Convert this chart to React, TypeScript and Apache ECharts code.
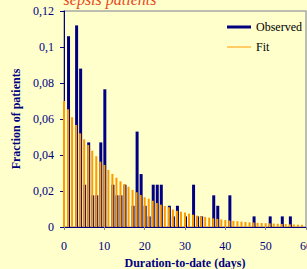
import React, { useEffect, useRef } from 'react';
import * as echarts from 'echarts';

// Day index 0..59
const days: number[] = Array.from({ length: 60 }, (_, i) => i);

const observed: number[] = [
  0, 0.106, 0, 0.112, 0.088, 0.0235, 0.047, 0.0176, 0.0176, 0.047,
  0.0765, 0, 0.0235, 0.0176, 0.0176, 0.0235, 0, 0.0118, 0.053, 0.0294,
  0.0118, 0.0059, 0.0235, 0.0235, 0.0235, 0, 0.0118, 0.0059, 0.0118, 0,
  0.0059, 0, 0.0235, 0.0059, 0.0059, 0, 0, 0.0176, 0.0118, 0,
  0, 0.0176, 0, 0, 0, 0, 0, 0.0059, 0, 0,
  0, 0.0059, 0, 0, 0.0059, 0, 0.0059, 0, 0, 0,
];

const fit: number[] = [
  0.070, 0.0654, 0.061, 0.0567, 0.052, 0.0487, 0.0456, 0.0424, 0.0393, 0.0363,
  0.0345, 0.0317, 0.0295, 0.0274, 0.0254, 0.0239, 0.0224, 0.0206, 0.0193, 0.0178,
  0.0165, 0.0157, 0.0146, 0.0133, 0.0124, 0.0117, 0.011, 0.0097, 0.009, 0.0085,
  0.008, 0.0074, 0.0068, 0.0063, 0.0059, 0.0056, 0.0052, 0.0048, 0.0045, 0.0042,
  0.0039, 0.0036, 0.0034, 0.0032, 0.003, 0.0028, 0.0026, 0.0025, 0.0023, 0.0022,
  0.0021, 0.002, 0.0019, 0.0018, 0.0017, 0.0016, 0.0015, 0.0014, 0.0013, 0.0012,
];

const seriesNames = ['Observed', 'Fit'];
const titleText = 'sepsis patients';
const xTitle = 'Duration-to-date (days)';
const yTitle = 'Fraction of patients';

const NAVY = '#000080';
const ORANGE = '#FF9900';
const SERIF = '"Liberation Serif", "Times New Roman", serif';

export default function App() {
  const ref = useRef<HTMLDivElement>(null);

  useEffect(() => {
    if (!ref.current) return;
    const chart = echarts.init(ref.current, undefined, { renderer: 'svg' });
    chart.setOption({
      animation: false,
      backgroundColor: '#FFFFCC',
      grid: {
        left: 64,
        right: 1,
        top: 11,
        bottom: 42,
        outerBoundsMode: 'none',
        containLabel: false,
        show: true,
        borderColor: '#A8A8A8',
        borderWidth: 1.5,
        backgroundColor: 'transparent',
      },
      graphic: [
        {
          type: 'text',
          x: 110,
          y: 7,
          style: {
            text: titleText,
            align: 'center',
            verticalAlign: 'bottom',
            fontFamily: SERIF,
            fontStyle: 'italic',
            fontSize: 16,
            fill: '#E8481C',
          },
        },
      ],
      legend: [
        {
          data: [{ name: seriesNames[0], icon: 'rect' }],
          left: 222,
          top: 16,
          itemWidth: 24,
          itemHeight: 3,
          textStyle: { fontFamily: SERIF, fontSize: 12, color: '#000' },
        },
        {
          data: [{ name: seriesNames[1], icon: 'rect' }],
          left: 222,
          top: 36,
          itemWidth: 24,
          itemHeight: 1,
          textStyle: { fontFamily: SERIF, fontSize: 12, color: '#000' },
        },
      ],
      xAxis: {
        type: 'value',
        min: 0,
        max: 60,
        interval: 10,
        name: xTitle,
        nameLocation: 'middle',
        nameGap: 28,
        nameTextStyle: { fontFamily: SERIF, fontSize: 12, fontWeight: 'bold', color: NAVY },
        axisLine: { lineStyle: { color: NAVY, width: 1 } },
        axisTick: { show: true, length: 3, lineStyle: { color: '#888' } },
        axisLabel: { fontFamily: SERIF, fontSize: 12, color: NAVY, margin: 13 },
        splitLine: { show: false },
      },
      yAxis: {
        type: 'value',
        min: 0,
        max: 0.12,
        interval: 0.02,
        name: yTitle,
        nameLocation: 'middle',
        nameGap: 40,
        nameTextStyle: { fontFamily: SERIF, fontSize: 12, fontWeight: 'bold', color: NAVY },
        axisLine: { show: true, lineStyle: { color: NAVY, width: 1 } },
        axisTick: { show: true, length: 4, lineStyle: { color: NAVY } },
        axisLabel: {
          fontFamily: SERIF,
          fontSize: 12,
          color: NAVY,
          margin: 10,
          formatter: (v: number) => (v === 0 ? '0' : String(+v.toFixed(2)).replace('.', ',')),
        },
        splitLine: { show: false },
      },
      series: [
        {
          name: seriesNames[0],
          type: 'bar',
          data: days.map((d, i) => [d, observed[i]]),
          barWidth: 3,
          barGap: '-100%',
          clip: false,
          itemStyle: { color: NAVY },
        },
        {
          name: seriesNames[1],
          type: 'bar',
          data: days.map((d, i) => [d, fit[i]]),
          barWidth: 2,
          barGap: '-100%',
          clip: false,
          itemStyle: { color: ORANGE },
        },
      ],
    });
    return () => chart.dispose();
  }, []);

  return (
    <div
      ref={ref}
      style={{ position: 'absolute', left: 0, top: 0, width: 307, height: 269 }}
    />
  );
}
